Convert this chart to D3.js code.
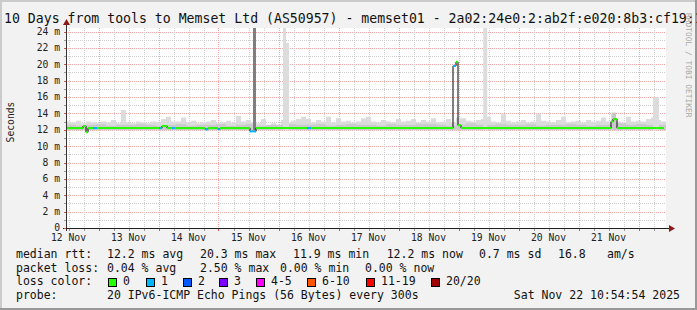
<!DOCTYPE html>
<html>
<head>
<meta charset="utf-8">
<script src="https://cdn.jsdelivr.net/npm/d3@7"></script>
<style>
body { margin: 0; background: #f2f2f2; }
svg { display: block; font-family: "DejaVu Sans Mono", monospace; }
</style>
</head>
<body>
<div id="chart"></div>
<script>
// hours counted from Nov 12 11:00 UTC, 10 days = 240 h

// smoke upper edge, 2 h buckets (12 per day)
var smokeTop = [
    13.0, 12.9, 13.1, 12.8, 13.0, 12.9, 12.8, 13.0, 12.9, 13.2, 12.8, 14.4,
    12.9, 12.8, 13.0, 12.9, 12.8, 13.0, 12.9, 13.3, 13.6, 13.0, 13.0, 13.5,
    12.9, 13.1, 12.8, 12.9, 13.0, 13.2, 12.8, 12.9, 13.1, 12.9, 13.7, 13.0,
    13.2, 12.9, 12.8, 13.3, 12.5, 12.8, 12.6, 13.2, 12.9, 13.1, 13.3, 13.6,
    13.3, 12.9, 13.2, 13.0, 13.6, 12.9, 13.4, 13.0, 13.1, 12.9, 13.0, 13.4,
    13.6, 13.0, 12.9, 13.2, 13.0, 12.9, 13.3, 13.0, 13.1, 13.3, 12.9, 13.2,
    13.0, 13.4, 12.9, 13.0, 13.3, 12.9, 13.5, 13.4, 13.1, 13.0, 13.2, 13.3,
    13.6, 13.0, 12.9, 13.9, 13.1, 12.9, 13.0, 13.2, 12.9, 13.0, 14.0, 13.1,
    13.0, 12.9, 13.2, 13.6, 12.9, 13.0, 13.1, 12.9, 13.2, 13.0, 13.1, 13.5,
    13.0, 13.9, 13.0, 12.9, 13.6, 13.0, 13.1, 13.0, 13.3, 13.5, 13.2, 13.0
];

// denser smoke core, 4 h buckets
var smokeCore = [
    12.6, 12.5, 12.6, 12.7, 12.5, 12.6, 12.6, 12.7, 12.6, 12.5, 12.6, 12.7,
    12.5, 12.6, 12.6, 12.7, 12.5, 12.6, 12.7, 12.5, 12.6, 12.6, 12.7, 12.6,
    12.6, 12.7, 12.5, 12.6, 12.7, 12.6, 12.6, 12.5, 12.7, 12.6, 12.6, 12.7,
    12.7, 12.6, 12.5, 12.6, 12.8, 12.6, 12.6, 12.7, 12.6, 12.6, 12.7, 12.5,
    12.6, 12.6, 12.7, 12.6, 12.5, 12.6, 12.6, 12.8, 12.6, 12.7, 12.6, 12.6
];
var smokeFloor = 11.95;

// short bursts of slow pings
var spikeHours = [74.8, 86.8, 88.0, 166.9, 218.4, 234.8];
var spikeSpan  = [1.2, 1.2, 1.2, 1.6, 1.6, 2.4];
var spikeTops  = [24.43, 24.43, 22.6, 24.43, 14.1, 16.0];
var spikePings = [16, 2, 2, 2, 5, 2];

// median rtt as steps: start hour, value (ms), lost pings
var medHours  = [0, 6.8, 8, 8.8, 10.8, 12.4, 37.2, 38.4, 40.4, 42.4, 43.6, 55.6, 56.8,
                 60.8, 61.6, 73.6, 76, 96.4, 98, 154.8, 156, 156.8, 158, 218, 218.8, 220.4, 239];
var medValues = [12.2, 12.45, 11.7, 12.2, 12.2, 12.2, 12.2, 12.45, 12.2, 12.2, 12.2, 12.05, 12.2,
                 12.05, 12.2, 11.8, 12.2, 12.2, 12.2, 19.8, 20.3, 12.55, 12.2, 13.0, 13.3, 12.2, 12.2];
var medLoss   = [0, 0, 0, 0, 1, 0, 1, 0, 0, 1, 0, 1, 0,
                 1, 0, 1, 0, 1, 0, 1, 0, 0, 0, 0, 0, 0, 0];

var lossLabels = ['0', '1', '2', '3', '4-5', '6-10', '11-19', '20/20'];
var lossLimits = [0, 1, 2, 3, 5, 10, 19, 20];
var lossColors = ['#26ff00', '#00b8ff', '#0059ff', '#7e00ff', '#ff00ff', '#ff5500', '#ff0000', '#a10000'];

var rttStats  = ['12.2 ms avg', '20.3 ms max', '11.9 ms min', '12.2 ms now', '0.7 ms sd', '16.8', 'am/s'];
var lossStats = ['0.04 % avg', '2.50 % max', '0.00 % min', '0.00 % now'];
var probeText = '20 IPv6-ICMP Echo Pings (56 Bytes) every 300s';
var stampText = 'Sat Nov 22 10:54:54 2025';
var titleText = '10 Days from tools to Memset Ltd (AS50957) - memset01 - 2a02:24e0:2:ab2f:e020:8b3:cf19:1';

var W = 697, H = 310;
var plot = { left: 66, right: 666, top: 28, bottom: 228 };
var t0 = Date.UTC(2025, 10, 12, 11, 0, 0);

var x = d3.scaleUtc()
    .domain([new Date(t0), new Date(t0 + 240 * 3600e3)])
    .range([plot.left, plot.right]);
var y = d3.scaleLinear().domain([0, 24.43]).range([plot.bottom, plot.top]);
var at = function(h) { return x(new Date(t0 + h * 3600e3)); };

var lossColor = d3.scaleThreshold()
    .domain(lossLimits.slice(0, -1).map(function(d) { return d + 0.5; }))
    .range(lossColors);
var spikeShade = d3.scaleLinear().domain([2, 16]).range(['#dcdcdc', '#7f7f7f']);

var svg = d3.select('#chart').append('svg')
    .attr('width', W)
    .attr('height', H);

svg.append('rect').attr('width', W).attr('height', H).attr('fill', '#f2f2f2');
// 3d frame
svg.append('rect').attr('x', 0).attr('y', 0).attr('width', W).attr('height', 2).attr('fill', '#cbcbcb');
svg.append('rect').attr('x', 0).attr('y', 0).attr('width', 2).attr('height', H).attr('fill', '#cbcbcb');
svg.append('rect').attr('x', W - 2).attr('y', 0).attr('width', 2).attr('height', H).attr('fill', '#999');
svg.append('rect').attr('x', 0).attr('y', H - 2).attr('width', W).attr('height', 2).attr('fill', '#999');

svg.append('rect')
    .attr('x', plot.left).attr('y', plot.top)
    .attr('width', plot.right - plot.left).attr('height', plot.bottom - plot.top)
    .attr('fill', '#fff');

// grid
var grid = svg.append('g').attr('shape-rendering', 'crispEdges');
var msTicks = d3.range(0, 25);
grid.selectAll('line.h').data(msTicks.slice(1)).enter().append('line')
    .attr('x1', plot.left).attr('x2', plot.right)
    .attr('y1', function(d) { return Math.round(y(d)) + 0.5; })
    .attr('y2', function(d) { return Math.round(y(d)) + 0.5; })
    .attr('stroke', function(d) { return d % 2 ? '#cfcfcf' : '#f4a6a6'; })
    .attr('stroke-dasharray', '1,1');

var quarters = d3.utcHour.every(6).range(x.domain()[0], x.domain()[1]);
grid.selectAll('line.v').data(quarters).enter().append('line')
    .attr('y1', plot.top).attr('y2', plot.bottom)
    .attr('x1', function(d) { return Math.round(x(d)) + 0.5; })
    .attr('x2', function(d) { return Math.round(x(d)) + 0.5; })
    .attr('stroke', function(d) { return d.getUTCHours() === 0 ? '#f4a6a6' : '#cfcfcf'; })
    .attr('stroke-dasharray', '1,1');

// smoke
var smoke = svg.append('g');
var topPts = smokeTop.map(function(v, i) { return [i * 2, v]; });
topPts.push([240, smokeTop[smokeTop.length - 1]]);
smoke.append('path')
    .datum(topPts)
    .attr('fill', '#dcdcdc')
    .attr('d', d3.area()
        .curve(d3.curveStepAfter)
        .x(function(d) { return at(d[0]); })
        .y0(y(smokeFloor))
        .y1(function(d) { return y(d[1]); }));

var corePts = smokeCore.map(function(v, i) { return [i * 4, v]; });
corePts.push([240, smokeCore[smokeCore.length - 1]]);
smoke.append('path')
    .datum(corePts)
    .attr('fill', '#cbcbcb')
    .attr('d', d3.area()
        .curve(d3.curveStepAfter)
        .x(function(d) { return at(d[0]); })
        .y0(y(smokeFloor))
        .y1(function(d) { return y(d[1]); }));

smoke.selectAll('rect.spike').data(spikeHours).enter().append('rect')
    .attr('x', function(d) { return at(d); })
    .attr('width', function(d, i) { return at(d + spikeSpan[i]) - at(d); })
    .attr('y', function(d, i) { return y(spikeTops[i]); })
    .attr('height', function(d, i) { return y(smokeFloor) - y(spikeTops[i]); })
    .attr('fill', function(d, i) { return spikeShade(spikePings[i]); });

// median: thin black steps, then coloured by loss
var steps = medHours.map(function(h, i) { return [h, medValues[i], medLoss[i]]; });
svg.append('path')
    .datum(steps)
    .attr('fill', 'none')
    .attr('stroke', '#000')
    .attr('stroke-width', 1)
    .attr('d', d3.line()
        .curve(d3.curveStepAfter)
        .x(function(d) { return at(d[0]); })
        .y(function(d) { return y(d[1]); }));

svg.append('g').selectAll('line').data(steps.slice(0, -1)).enter().append('line')
    .attr('x1', function(d) { return at(d[0]); })
    .attr('x2', function(d, i) { return at(steps[i + 1][0]); })
    .attr('y1', function(d) { return y(d[1]); })
    .attr('y2', function(d) { return y(d[1]); })
    .attr('stroke', function(d) { return lossColor(d[2]); })
    .attr('stroke-width', 2);

// axes
var axis = svg.append('g').attr('shape-rendering', 'crispEdges');
axis.append('line').attr('x1', plot.left + 0.5).attr('x2', plot.left + 0.5).attr('y1', plot.bottom + 3).attr('y2', plot.top - 4).attr('stroke', '#333');
axis.append('line').attr('x1', plot.left - 3).attr('x2', plot.right + 4).attr('y1', plot.bottom + 0.5).attr('y2', plot.bottom + 0.5).attr('stroke', '#222');
axis.selectAll('line.yt').data(msTicks).enter().append('line')
    .attr('x1', plot.left - 2).attr('x2', plot.left)
    .attr('y1', function(d) { return Math.round(y(d)) + 0.5; })
    .attr('y2', function(d) { return Math.round(y(d)) + 0.5; })
    .attr('stroke', function(d) { return d % 2 ? '#999' : '#e05050'; });
axis.selectAll('line.xt').data(quarters).enter().append('line')
    .attr('y1', plot.bottom + 1).attr('y2', plot.bottom + 3)
    .attr('x1', function(d) { return Math.round(x(d)) + 0.5; })
    .attr('x2', function(d) { return Math.round(x(d)) + 0.5; })
    .attr('stroke', function(d) { return d.getUTCHours() === 0 ? '#e05050' : '#999'; });
svg.append('path').attr('d', 'M' + (plot.left - 3) + ',' + (plot.top - 3) + 'L' + (plot.left + 4) + ',' + (plot.top - 3) + 'L' + (plot.left + 0.5) + ',' + (plot.top - 9) + 'Z').attr('fill', '#8b1a1a');
svg.append('path').attr('d', 'M' + (plot.right + 3) + ',' + (plot.bottom - 3) + 'L' + (plot.right + 3) + ',' + (plot.bottom + 4) + 'L' + (plot.right + 9) + ',' + (plot.bottom + 0.5) + 'Z').attr('fill', '#8b1a1a');

var labels = svg.append('g').attr('font-size', '9.7px').attr('fill', '#222');
labels.selectAll('text.y').data(d3.range(0, 25, 2)).enter().append('text')
    .attr('x', 60)
    .attr('y', function(d) { return y(d); })
    .attr('dy', '0.35em')
    .attr('text-anchor', 'end')
    .text(function(d) { return d === 0 ? '0' : d + ' m'; });

var noons = d3.utcDay.range(d3.utcDay.floor(x.domain()[0]), x.domain()[1])
    .map(function(d) { return d3.utcHour.offset(d, 12); })
    .filter(function(d) { return d < x.domain()[1]; });
var fmtDay = d3.utcFormat('%d %b');
labels.selectAll('text.x').data(noons).enter().append('text')
    .attr('x', function(d) { return x(d); })
    .attr('y', 241)
    .attr('text-anchor', 'middle')
    .text(fmtDay);

svg.append('text')
    .attr('transform', 'translate(14,122) rotate(-90)')
    .attr('text-anchor', 'middle')
    .attr('font-size', '9.7px')
    .attr('fill', '#222')
    .text('Seconds');

svg.append('text')
    .attr('x', 4).attr('y', 23)
    .attr('font-size', '13.2px')
    .attr('fill', '#111')
    .text(titleText);

svg.append('text')
    .attr('transform', 'translate(686,13) rotate(90)')
    .attr('font-size', '7.9px')
    .attr('fill', '#a8a8a8')
    .text('RRDTOOL / TOBI OETIKER');

// legend
var legend = svg.append('g').attr('font-size', '11.5px').attr('fill', '#111');
var rowY = [258, 271.7, 285.4, 299];
var rttX = [107, 200, 293, 386.7, 479, 558, 607];
var lossX = [107, 200, 280, 365];
var boxX = [108, 146, 183, 219, 256, 307, 366, 431];

legend.append('text').attr('x', 16).attr('y', rowY[0]).text('median rtt:');
legend.selectAll('text.rtt').data(rttStats).enter().append('text')
    .attr('x', function(d, i) { return rttX[i]; })
    .attr('y', rowY[0])
    .text(function(d) { return d; });

legend.append('text').attr('x', 16).attr('y', rowY[1]).text('packet loss:');
legend.selectAll('text.loss').data(lossStats).enter().append('text')
    .attr('x', function(d, i) { return lossX[i]; })
    .attr('y', rowY[1])
    .text(function(d) { return d; });

legend.append('text').attr('x', 16).attr('y', rowY[2]).text('loss color:');
var keys = legend.selectAll('g.key').data(lossLabels).enter().append('g');
keys.append('rect')
    .attr('x', function(d, i) { return boxX[i] + 0.5; })
    .attr('y', 278.5)
    .attr('width', 8).attr('height', 8)
    .attr('fill', function(d, i) { return lossColors[i]; })
    .attr('stroke', '#000');
keys.append('text')
    .attr('x', function(d, i) { return boxX[i] + 15; })
    .attr('y', rowY[2])
    .text(function(d) { return d; });

legend.append('text').attr('x', 16).attr('y', rowY[3]).text('probe:');
legend.append('text').attr('x', 107).attr('y', rowY[3]).text(probeText);
legend.append('text').attr('x', 680).attr('y', rowY[3]).attr('text-anchor', 'end').text(stampText);
</script>
</body>
</html>
